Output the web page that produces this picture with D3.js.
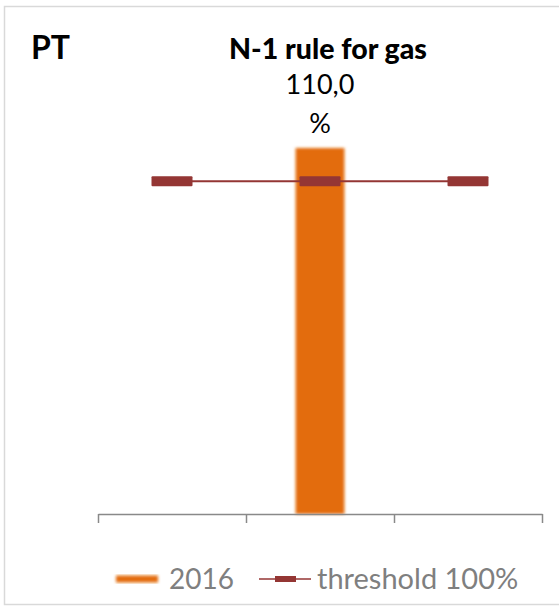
<!DOCTYPE html>
<html>
<head>
<meta charset="utf-8">
<script src="https://cdn.jsdelivr.net/npm/d3@7"></script>
<style>
  body { margin: 0; background: #fff; }
  svg { display: block; }
  text { font-family: Lato, "Open Sans", sans-serif; }
</style>
</head>
<body>
<svg id="chart" width="559" height="606"></svg>
<script>
// data
const categories = ["c1", "c2", "c3"];
const barValues = [null, 110, null];           // 2016
const thresholdValues = [100, 100, 100];       // threshold 100%
const seriesNames = ["2016", "threshold 100%"];
const countryCode = "PT";
const chartTitle = "N-1 rule for gas";
const valueLabel = ["110,0", "%"];

const W = 559, H = 606;
const plot = { left: 98, right: 542, top: 148, bottom: 514 };

const svg = d3.select("#chart");

// soft edge on the bar
const defs = svg.append("defs");
defs.append("filter")
  .attr("id", "soft")
  .attr("x", "-20%").attr("y", "-20%")
  .attr("width", "140%").attr("height", "140%")
  .append("feGaussianBlur")
  .attr("stdDeviation", 1.4);

// outer frame
svg.append("rect")
  .attr("x", 4.5).attr("y", 6.5)
  .attr("width", W + 10).attr("height", 598)
  .attr("fill", "none")
  .attr("stroke", "#d9d9d9")
  .attr("stroke-width", 1.5);

const x = d3.scaleBand()
  .domain(categories)
  .range([plot.left, plot.right])
  .paddingInner(0)
  .paddingOuter(0);

const y = d3.scaleLinear()
  .domain([0, 110])
  .range([plot.bottom, plot.top]);

// bar series
const barW = x.bandwidth() * 0.33;
svg.append("g")
  .selectAll("rect")
  .data(categories.map((c, i) => ({ c, v: barValues[i] })).filter(d => d.v != null))
  .join("rect")
  .attr("x", d => x(d.c) + x.bandwidth() / 2 - barW / 2)
  .attr("y", d => y(d.v))
  .attr("width", barW)
  .attr("height", d => y(0) - y(d.v))
  .attr("fill", "#e36c0a")
  .attr("filter", "url(#soft)");

// x axis with ticks on category boundaries
const edges = d3.scaleLinear().domain([0, categories.length]).range([plot.left, plot.right]);
const axis = svg.append("g")
  .attr("transform", `translate(0,${plot.bottom})`)
  .call(d3.axisBottom(edges)
    .tickValues(d3.range(categories.length + 1))
    .tickFormat("")
    .tickSize(9)
    .tickSizeOuter(0));
axis.select(".domain").attr("stroke", "#898989").attr("stroke-width", 1.5);
axis.selectAll(".tick line").attr("stroke", "#898989").attr("stroke-width", 1.5);

// threshold line + markers
const cx = c => x(c) + x.bandwidth() / 2;
const thr = categories.map((c, i) => ({ c, v: thresholdValues[i] }));
svg.append("path")
  .datum(thr)
  .attr("fill", "none")
  .attr("stroke", "#943634")
  .attr("stroke-width", 2)
  .attr("d", d3.line().x(d => cx(d.c)).y(d => y(d.v)));
svg.append("g")
  .selectAll("rect")
  .data(thr)
  .join("rect")
  .attr("x", d => cx(d.c) - 20.5)
  .attr("y", d => y(d.v) - 5)
  .attr("width", 41)
  .attr("height", 10)
  .attr("rx", 1)
  .attr("fill", "#943634");

// titles
svg.append("text")
  .attr("x", 31).attr("y", 58.5)
  .attr("font-family", "'Liberation Sans', Arial, sans-serif")
  .attr("font-weight", "bold")
  .attr("font-size", 32)
  .attr("fill", "#000")
  .text(countryCode);

svg.append("text")
  .attr("x", 328).attr("y", 59)
  .attr("text-anchor", "middle")
  .attr("font-weight", "900")
  .attr("font-size", 28.5)
  .attr("fill", "#000")
  .text(chartTitle);

// data label of the bar, split on two lines
const lab = svg.append("text")
  .attr("text-anchor", "middle")
  .attr("font-size", 27)
  .attr("fill", "#000");
lab.selectAll("tspan")
  .data(valueLabel)
  .join("tspan")
  .attr("x", cx(categories[1]))
  .attr("y", (d, i) => 93.5 + i * 39)
  .text(d => d);

// legend
const leg = svg.append("g").attr("transform", "translate(0,579)");
leg.append("rect")
  .attr("x", 116).attr("y", -3.5).attr("width", 42).attr("height", 7)
  .attr("fill", "#e36c0a")
  .attr("filter", "url(#soft)");
leg.append("text")
  .attr("x", 169).attr("y", 10)
  .attr("font-size", 28)
  .attr("fill", "#7f7f7f")
  .text(seriesNames[0]);
leg.append("line")
  .attr("x1", 259).attr("x2", 311)
  .attr("stroke", "#943634").attr("stroke-width", 1.5);
leg.append("rect")
  .attr("x", 275).attr("y", -3).attr("width", 21).attr("height", 6)
  .attr("fill", "#943634");
leg.append("text")
  .attr("x", 317).attr("y", 10)
  .attr("font-size", 29)
  .attr("fill", "#7f7f7f")
  .text(seriesNames[1]);
</script>
</body>
</html>
